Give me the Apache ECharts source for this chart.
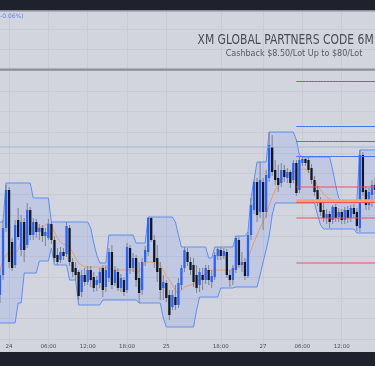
<!DOCTYPE html>
<html>
<head>
<meta charset="utf-8">
<script src="https://cdn.jsdelivr.net/npm/echarts@6/dist/echarts.min.js"></script>
<style>
html,body{margin:0;padding:0;background:#d2d5de;}
#c{width:375px;height:366px;}
</style>
</head>
<body>
<div id="c"></div>
<script>
// x-axis tick labels (candle index -> text)
const tickIndex = [3, 16, 29, 42, 55, 73, 87, 100, 113];
const tickText = ['24', '06:00', '12:00', '18:00', '25', '18:00', '27', '06:00', '12:00'];

// candles: [open, close, low, high]
const candles = [
[65,85,57,92],[85,132,80,140],[132,170,128,175],[170,98,92,173],[118,92,89,122],
[95,135,92,140],[140,123,120,152],[110,138,104,145],[138,110,98,142],[115,150,112,157],
[150,125,120,153],[125,138,120,142],[138,128,122,141],[128,132,120,136],[132,124,118,135],
[124,128,114,132],[122,136,120,141],[136,120,116,138],[120,102,98,124],[105,98,95,112],
[100,108,97,113],[108,104,100,112],[106,134,103,138],[132,98,94,135],[98,88,83,102],
[92,85,80,98],[88,64,60,90],[68,85,63,90],[85,78,74,92],[78,90,75,94],
[90,80,73,94],[83,72,68,88],[75,80,69,84],[77,88,72,92],[92,70,63,95],
[73,90,68,95],[82,108,78,112],[108,75,71,115],[77,90,74,94],[88,72,69,92],
[72,82,68,86],[80,68,64,83],[70,113,67,117],[112,92,86,115],[92,102,88,107],
[102,80,73,105],[82,67,57,98],[70,98,65,102],[98,110,94,114],[108,142,104,143],
[142,120,118,143],[120,98,92,125],[102,88,78,115],[92,70,60,98],[72,78,60,85],
[77,62,58,80],[65,45,40,70],[53,65,50,70],[63,55,50,75],[55,77,52,82],
[75,92,70,95],[92,110,88,113],[108,98,94,112],[98,90,85,103],[95,78,73,102],
[85,72,67,95],[75,88,68,92],[85,80,70,92],[80,92,76,95],[90,80,75,95],
[78,84,72,90],[83,105,80,108],[104,111,100,113],[110,104,100,113],[104,109,101,112],
[108,85,82,111],[85,80,73,90],[80,92,75,95],[90,122,87,124],[120,95,92,123],
[95,98,88,108],[98,84,80,102],[84,125,82,128],[125,155,120,162],[150,178,146,180],
[178,145,138,182],[148,180,142,198],[178,148,130,182],[148,185,142,190],[182,215,178,228],
[213,188,184,225],[190,180,175,200],[182,175,168,195],[177,190,173,197],[190,183,178,195],
[182,188,177,192],[188,177,172,190],[180,197,177,200],[197,167,164,200],[170,200,167,203],
[197,201,194,203],[201,197,194,202],[200,190,187,203],[192,180,176,196],[180,168,164,184],
[170,158,154,174],[160,148,144,163],[150,142,138,157],[142,146,136,151],[146,138,132,149],
[140,153,136,155],[153,142,138,156],[143,148,138,152],[148,140,136,151],[140,150,136,153],
[150,142,137,154],[142,152,138,155],[152,146,142,156],[148,134,129,152],[132,205,128,210],
[205,168,164,208],[170,155,150,174],[155,168,150,172],[165,175,153,180],[175,170,160,182]
];

// channel upper / lower and moving average
const upperBand = [
138,138,177,177,177,177,177,177,177,177,
177,162,162,162,162,162,162,138,138,138,
138,138,138,138,138,138,138,138,138,138,
132,117,105,97,97,97,125,125,125,125,
125,125,125,125,125,117,117,117,117,143,
143,143,143,143,143,143,143,143,138,125,
113,113,113,113,113,113,113,113,113,102,
102,113,113,113,113,113,113,113,124,124,
124,124,128,162,180,198,198,198,198,228,
228,228,228,228,228,228,228,228,220,205,
203,203,203,203,203,203,203,203,203,203,
190,175,162,159,159,159,159,159,159,210,
210,210,210,210,210
];
const lowerBand = [
37,37,37,37,37,37,57,57,87,87,
87,87,87,99,99,99,99,112,95,95,
95,95,95,80,80,80,55,55,55,55,
55,55,55,55,60,60,60,60,60,60,
60,60,60,60,60,60,57,57,57,57,
57,57,57,57,42,33,33,33,33,33,
33,33,33,33,33,50,63,63,63,63,
63,63,63,72,72,72,72,72,73,73,
73,73,73,73,73,73,85,98,110,124,
145,157,157,157,157,157,157,157,157,157,
157,157,157,157,157,145,135,131,131,131,
131,131,131,131,131,131,131,131,127,127,
127,127,127,127,127
];
const maLine = [
92,98,105,107,107,107,110,120,125,130,
132,132,132,132,132,135,137,135,128,122,
118,116,115,113,108,102,97,95,93,93,
93,93,93,93,92,92,92,90,90,90,
90,90,90,90,90,88,88,94,98,98,
98,98,98,95,90,84,80,75,70,66,
70,73,74,75,76,77,80,84,87,89,
90,90,90,90,90,90,90,90,92,94,
96,98,102,110,118,125,132,138,145,155,
163,170,175,180,183,185,187,188,189,190,
191,191,188,185,180,174,170,166,163,161,
159,157,157,157,157,157,157,157,157,160,
162,164,165,166,167
];

// horizontal drawn levels (price)
const levelGray = 290.3;
const levelLightBlue = 213;
const levelsBlue = [278.5, 233.5, 218.5, 203.5];
const levelsRed = [173, 157.5, 142, 97];
const levelOrange = 159.2;
const levelStart = 98;

const upColor = '#2962ff', downColor = '#131722', wickColor = '#7f838d';

// a horizontal level drawn as a line series from candle index `start` to the last candle
const levelSeries = (v, start, color, width) => ({
  type: 'line', data: candles.map((_, i) => (i >= start ? v : null)),
  symbol: 'none', silent: true, z: 6, connectNulls: false,
  lineStyle: {color, width, type: 'solid'}
});

const series = [
  {
    type: 'custom', name: 'channel fill', silent: true, z: 1,
    data: [[0, 0]],
    renderItem: (params, api) => {
      const pts = [];
      for (let i = 0; i < upperBand.length; i++) pts.push(api.coord([i, upperBand[i]]));
      for (let i = lowerBand.length - 1; i >= 0; i--) pts.push(api.coord([i, lowerBand[i]]));
      return {type: 'polygon', shape: {points: pts}, style: {fill: 'rgba(41,98,255,0.10)'}};
    }
  },
  {type: 'line', name: 'upper', data: upperBand, symbol: 'none', silent: true, z: 2,
    lineStyle: {color: '#5d8ef0', width: 1}},
  {type: 'line', name: 'lower', data: lowerBand, symbol: 'none', silent: true, z: 2,
    lineStyle: {color: '#5d8ef0', width: 1}},
  {type: 'line', name: 'ma', data: maLine, symbol: 'none', silent: true, z: 3,
    lineStyle: {color: '#ef9a5e', width: 1}},
  {
    type: 'custom', name: 'candles', z: 4, silent: true,
    data: candles.map((d, i) => [i, d[0], d[1], d[2], d[3]]),
    encode: {x: 0, y: [1, 2, 3, 4]},
    renderItem: (params, api) => {
      const i = api.value(0), o = api.value(1), c = api.value(2), l = api.value(3), h = api.value(4);
      const pH = api.coord([i, h]), pL = api.coord([i, l]);
      const pO = api.coord([i, o]), pC = api.coord([i, c]);
      const w = 2.3;
      const y0 = Math.min(pO[1], pC[1]);
      const hh = Math.max(1, Math.abs(pO[1] - pC[1]));
      return {type: 'group', children: [
        {type: 'line', shape: {x1: pH[0], y1: pH[1], x2: pL[0], y2: pL[1]}, style: {stroke: wickColor, lineWidth: 1}},
        {type: 'rect', shape: {x: pO[0] - w / 2, y: y0, width: w, height: hh}, style: {fill: c >= o ? upColor : downColor}}
      ]};
    }
  },
  levelSeries(levelGray, 0, '#8e9199', 2.2),
  levelSeries(levelLightBlue, 0, '#a7b4d8', 1)
];
levelsBlue.forEach(v => series.push(levelSeries(v, levelStart, '#3f72f0', 1)));
series.push(levelSeries(levelOrange, levelStart, '#f2a76a', 3));
levelsRed.forEach(v => series.push(levelSeries(v, levelStart, '#e8505f', 1)));

const chart = echarts.init(document.getElementById('c'));
chart.setOption({
  animation: false,
  backgroundColor: '#d2d5de',
  grid: {left: 0, right: 0, top: 8.1, bottom: 6},
  xAxis: {
    type: 'category', data: candles.map((_, i) => i), boundaryGap: false,
    axisLine: {show: false}, axisTick: {show: false},
    axisLabel: {
      inside: true, margin: 10, fontSize: 5.5, color: '#4a4d58', fontFamily: 'DejaVu Sans',
      interval: (i) => tickIndex.includes(i),
      formatter: (v, i) => { const k = tickIndex.indexOf(i); return k >= 0 ? tickText[k] : ''; }
    },
    splitLine: {show: true, interval: (i) => tickIndex.includes(i), lineStyle: {color: '#c8cbd4', width: 1}}
  },
  yAxis: {
    type: 'value', min: 0, max: 351.9, interval: 20.7,
    axisLine: {show: false}, axisTick: {show: false}, axisLabel: {show: false},
    splitLine: {lineStyle: {color: '#c8cbd4', width: 1}}
  },
  series,
  graphic: [
    {type: 'rect', z: 100, shape: {x: 0, y: 0, width: 375, height: 10.5}, style: {fill: '#1e222d'}},
    {type: 'rect', z: 100, shape: {x: 0, y: 10.5, width: 375, height: 1.2}, style: {fill: '#a2a5ae'}},
    {type: 'rect', z: 100, shape: {x: 0, y: 352, width: 375, height: 14}, style: {fill: '#1e222d'}},
    {type: 'text', z: 100, x: 0, y: 16, style: {text: '-0.06%)', fill: '#5a88f0', font: '6px "DejaVu Sans"', verticalAlign: 'middle'}},
    {type: 'text', z: 100, x: 197.5, y: 40, scaleX: 0.887, style: {text: 'XM GLOBAL PARTNERS CODE 6M', fill: '#4a4d57', font: '13.5px "Liberation Sans Narrow", "DejaVu Sans Condensed", sans-serif', verticalAlign: 'middle'}},
    {type: 'text', z: 100, x: 294, y: 53.5, scaleX: 0.94, style: {text: 'Cashback $8.50/Lot Up to $80/Lot', fill: '#555862', font: '9.5px "Liberation Sans Narrow", "DejaVu Sans Condensed", sans-serif', align: 'center', verticalAlign: 'middle'}}
  ]
});
</script>
</body>
</html>
